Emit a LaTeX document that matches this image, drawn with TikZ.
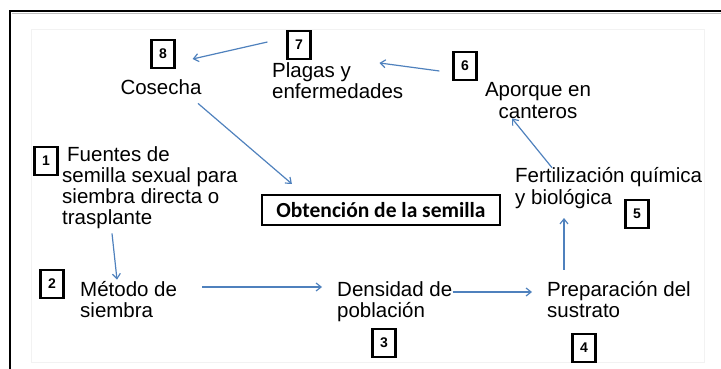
\documentclass[tikz,border=0pt]{standalone}
\usepackage{fontspec}
\setmainfont{Liberation Sans}
\newfontfamily\calfont{Carlito}
\usetikzlibrary{arrows.meta,calc}
\definecolor{arrblue}{HTML}{4F81BD}
\tikzset{
  lbl/.style={font=\fontsize{20.5}{21}\selectfont, inner sep=0pt, align=left, anchor=base west},
  numbox/.style={draw=black, line width=2.2pt, minimum width=23pt, minimum height=28pt,
    inner sep=0pt, font=\fontsize{14}{14}\selectfont\bfseries},
  arr/.style={draw=arrblue, line width=1.2pt, -{Straight Barb[length=5pt,width=8pt]}},
}
\begin{document}
\begin{tikzpicture}[x=1pt,y=-1pt]
\useasboundingbox (0,0) rectangle (721,369);
% frame
\draw[gray!10, line width=0.8pt] (31,29) rectangle (704,362);
\draw[gray!50, line width=1pt] (12,13.5) -- (721,13.5);
\draw[black, line width=2.5pt] (10,369) -- (10,11) -- (721,11);

% number boxes
\node[numbox] (b1) at (46,161) {1};
\node[numbox] (b2) at (52,284) {2};
\node[numbox] (b3) at (384,343) {3};
\node[numbox] (b4) at (584,348) {4};
\node[numbox] (b5) at (637,214) {5};
\node[numbox] (b6) at (465,66) {6};
\node[numbox] (b7) at (299,45) {7};
\node[numbox] (b8) at (163,54) {8};

% labels (base = baseline of last line)
\node[lbl] (fuentes) at (62,224) {\hspace*{5pt}Fuentes de\\semilla sexual para\\siembra directa o\\trasplante};
\node[lbl] (metodo) at (80,317) {Método de\\siembra};
\node[lbl] (densidad) at (337,317) {Densidad de\\población};
\node[lbl] (prep) at (547,317) {Preparación del\\sustrato};
\node[lbl] (fert) at (515,204) {Fertilización química\\y biológica};
\node[lbl, align=center, anchor=base] (aporque) at (538,118) {Aporque en\\canteros};
\node[lbl] (plagas) at (272,99) {Plagas y\\enfermedades};
\node[lbl, anchor=base] (cosecha) at (161,95) {Cosecha};

\node[draw=black, line width=2.2pt, minimum width=238pt, minimum height=30pt, inner sep=0pt,
  font=\calfont\fontsize{21.5}{22}\selectfont\bfseries] (obt) at (381,210) {Obtención de la semilla};

% connectors
\draw[arr] ($(b7.west)+(-19,-3)$) -- ($(b8.east)+(17,5)$);
\draw[arr] ($(b6.west)+(-13,5)$) -- ($(plagas.north east)+(-24,0)$ |- 0,69);
\draw[arr] ($(fert.north west)+(37,0)$) -- ($(aporque.south)+(-26,0)$);
\draw[arr] (prep.north -| 564,0) ++(0,-11) -- (564,218);
\draw[arr] (densidad.east |- 0,292) -- ($(prep.west |- 0,292)+(-15,0)$);
\draw[arr] ($(metodo.east |- 0,287)+(25,0)$) -- ($(densidad.west |- 0,287)+(-15,0)$);
\draw[arr] ($(fuentes.south west)+(50,5)$) -- ($(metodo.north west)+(37,-1)$);
\draw[arr] ($(cosecha.south)+(37,8)$) -- ($(obt.north west)+(31,-10)$);
\end{tikzpicture}
\end{document}
